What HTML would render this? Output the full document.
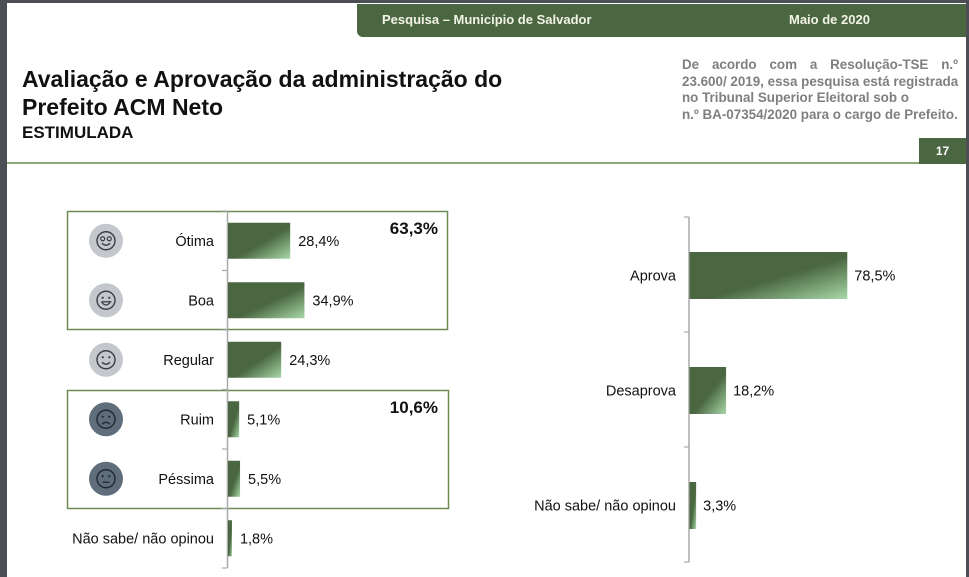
<!DOCTYPE html>
<html><head><meta charset="utf-8"><style>
body{margin:0;width:969px;height:577px;overflow:hidden;background:#4b4e52;font-family:"Liberation Sans",sans-serif;}
#page{position:absolute;left:7px;top:3px;width:959px;height:574px;background:#fff;}
.t{position:absolute;white-space:nowrap;}
.nl{display:block;text-align:justify;text-align-last:justify;}
</style></head><body>
<div id="page"></div>
<div class="t" style="left:357px;top:4px;width:609px;height:33px;background:#4a6741;border-bottom-left-radius:6px;"></div>
<div class="t" style="left:382px;top:12px;color:#f3f3e6;font-weight:bold;font-size:13px;">Pesquisa – Município de Salvador</div>
<div class="t" style="left:789px;top:12px;color:#f3f3e6;font-weight:bold;font-size:13px;">Maio de 2020</div>
<div class="t" style="left:22px;top:65px;font-weight:bold;font-size:23px;line-height:28px;color:#111;">Avaliação e Aprovação da administração do<br>Prefeito ACM Neto</div>
<div class="t" style="left:22px;top:123px;font-weight:bold;font-size:17px;color:#111;">ESTIMULADA</div>
<div class="t" style="left:682px;top:57px;width:276px;white-space:nowrap;font-weight:bold;font-size:13.4px;line-height:16.5px;color:#7f7f7f;">
<span class="nl">De acordo com a Resolução-TSE n.º</span>
<span class="nl">23.600/ 2019, essa pesquisa está registrada</span>
<span style="display:block">no Tribunal Superior Eleitoral sob o</span>
<span style="display:block">n.º BA-07354/2020 para o cargo de Prefeito.</span>
</div>
<div class="t" style="left:7px;top:162px;width:912px;height:2px;background:#8fa878;"></div>
<div class="t" style="left:919px;top:138px;width:47px;height:26px;background:#4a6741;color:#fff;font-weight:bold;font-size:12px;line-height:26px;text-align:center;">17</div>

<svg id="chart" width="969" height="577" style="position:absolute;left:0;top:0">
<defs><linearGradient id="g" x1="0" y1="0" x2="1" y2="1">
<stop offset="0" stop-color="#4a6741"/><stop offset="0.55" stop-color="#4a6741"/><stop offset="1" stop-color="#a8d8a8"/></linearGradient></defs>
</svg>
<script>
const leftCats=["Ótima","Boa","Regular","Ruim","Péssima","Não sabe/ não opinou"];
const leftVals=[28.4,34.9,24.3,5.1,5.5,1.8];
const leftLabels=["28,4%","34,9%","24,3%","5,1%","5,5%","1,8%"];
const leftFaces=["love","grin","smile","sad","meh",""];
const groupTotals=["63,3%","10,6%"];
const rightCats=["Aprova","Desaprova","Não sabe/ não opinou"];
const rightVals=[78.5,18.2,3.3];
const rightLabels=["78,5%","18,2%","3,3%"];

const svg=document.getElementById('chart');
const NS='http://www.w3.org/2000/svg';
function mk(tag,attrs,parent){const e=document.createElementNS(NS,tag);for(const k in attrs)e.setAttribute(k,attrs[k]);(parent||svg).appendChild(e);return e;}

const L={x0:228,top:211,band:59.5,scale:2.19,bh:36};
function lx(v){return L.x0+v*L.scale;}
function ly(i){return L.top+L.band*i+L.band/2;}
let b1=mk('rect',{x:67.5,y:211.5,width:380,height:118,fill:'none',stroke:'#6e8a55','stroke-width':1.5});


let b2=mk('rect',{x:67.5,y:390.5,width:381,height:118,fill:'none',stroke:'#6e8a55','stroke-width':1.5});


let ax=mk('line',{x1:227.5,y1:L.top,x2:227.5,y2:L.top+L.band*6,stroke:'#aaa','stroke-width':1.5});


for(let i=0;i<=6;i++){let t=mk('line',{x1:222,x2:227.5,y1:L.top+L.band*i,y2:L.top+L.band*i,stroke:'#aaa','stroke-width':1.2});

}
function face(cx,cy,type){
  if(!type)return;
  const dark=(type==='sad'||type==='meh');
  const g=mk('g',{});
  
  
  mk('circle',{cx:cx,cy:cy,r:17,fill:dark?'#5f6e7a':'#c4c8cd'},g);
  const s=dark?'#1e2a33':'#3a3f44';
  mk('circle',{cx:cx,cy:cy,r:9,fill:'none',stroke:s,'stroke-width':1.4},g);
  if(type==='love'){mk('circle',{cx:cx-3.3,cy:cy-2,r:2,fill:'none',stroke:s,'stroke-width':1.2},g);mk('circle',{cx:cx+3.3,cy:cy-2,r:2,fill:'none',stroke:s,'stroke-width':1.2},g);}
  else{mk('circle',{cx:cx-3.3,cy:cy-2.5,r:1.1,fill:s},g);mk('circle',{cx:cx+3.3,cy:cy-2.5,r:1.1,fill:s},g);}
  let m='';
  if(type==='grin')m=`M${cx-4.5} ${cy+1.5} H${cx+4.5} Q${cx} ${cy+8} ${cx-4.5} ${cy+1.5}`;
  else if(type==='sad')m=`M${cx-4} ${cy+5} Q${cx} ${cy+1} ${cx+4} ${cy+5}`;
  else if(type==='meh')m=`M${cx-3.5} ${cy+3.5} H${cx+3.5}`;
  else m=`M${cx-4} ${cy+2.5} Q${cx} ${cy+6.5} ${cx+4} ${cy+2.5}`;
  mk('path',{d:m,fill:'none',stroke:s,'stroke-width':1.3},g);
}
leftCats.forEach((c,i)=>{
  const y=ly(i);
  let r=mk('rect',{x:L.x0,y:y-L.bh/2,width:lx(leftVals[i])-L.x0,height:L.bh,fill:'url(#g)'});
  
  
  let t=mk('text',{x:214,y:y+5,'text-anchor':'end','font-size':14.5,fill:'#111','font-family':'Liberation Sans'});t.textContent=c;
  
  
  let v=mk('text',{x:lx(leftVals[i])+8,y:y+5,'font-size':14.5,fill:'#111','font-family':'Liberation Sans'});v.textContent=leftLabels[i];
  
  
  face(106,y,leftFaces[i]);
});
[[0,222],[1,401]].forEach(([k,y])=>{
  let t=mk('text',{x:438,y:y+12,'text-anchor':'end','font-size':17,'font-weight':'bold',fill:'#111','font-family':'Liberation Sans'});t.textContent=groupTotals[k];
  
  
});

const R={x0:689.5,top:217,band:115,scale:2.01,bh:47};
function rx(v){return R.x0+v*R.scale;}
function ry(i){return R.top+R.band*i+R.band/2+1;}
let ax2=mk('line',{x1:689,y1:R.top,x2:689,y2:R.top+R.band*3,stroke:'#aaa','stroke-width':1.5});


for(let i=0;i<=3;i++){let t=mk('line',{x1:684,x2:689,y1:R.top+R.band*i,y2:R.top+R.band*i,stroke:'#aaa','stroke-width':1.2});

}
rightCats.forEach((c,i)=>{
  const y=ry(i);
  let r=mk('rect',{x:R.x0,y:y-R.bh/2,width:rx(rightVals[i])-R.x0,height:R.bh,fill:'url(#g)'});
  
  
  let t=mk('text',{x:676,y:y+5,'text-anchor':'end','font-size':14.5,fill:'#111','font-family':'Liberation Sans'});t.textContent=c;
  
  
  let v=mk('text',{x:rx(rightVals[i])+7,y:y+5,'font-size':14.5,fill:'#111','font-family':'Liberation Sans'});v.textContent=rightLabels[i];
  
  
});
</script>
</body></html>
